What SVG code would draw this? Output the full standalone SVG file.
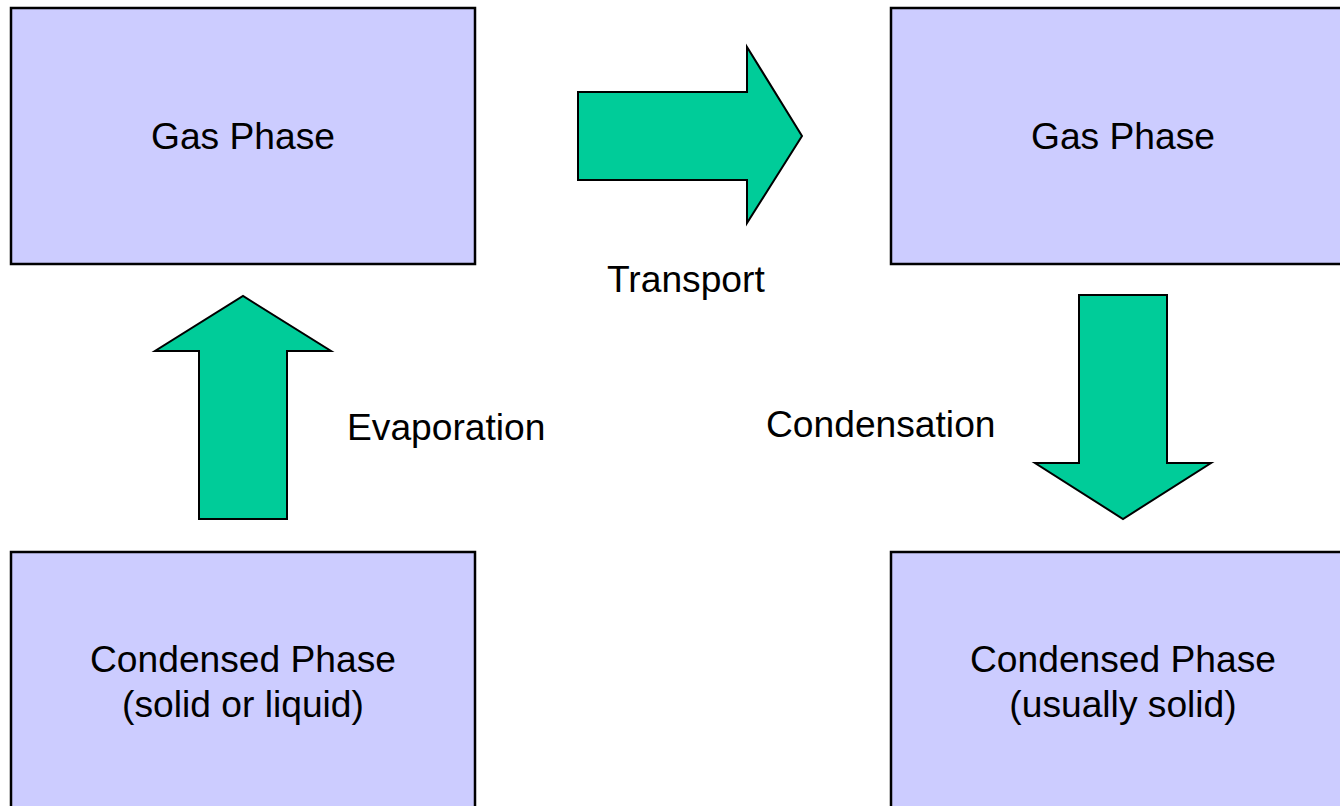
<svg xmlns="http://www.w3.org/2000/svg" width="1340" height="806" viewBox="0 0 1340 806">
<style>
.box{fill:#ccccff;stroke:#000;stroke-width:2.5}
.arr{fill:#00cc99;stroke:#000;stroke-width:2;stroke-linejoin:miter}
text{font-family:"Liberation Sans",Arial,sans-serif;font-size:37.2px;fill:#000}
.c{text-anchor:middle}
</style>
<rect width="1340" height="806" fill="#fff"/>
<g id="gas-left"><rect class="box" x="11" y="8" width="464" height="256"/><text class="c" x="243" y="148.5">Gas Phase</text></g>
<g id="gas-right"><rect class="box" x="891" y="8" width="470" height="256"/><text class="c" x="1123" y="148.5">Gas Phase</text></g>
<g id="cond-left"><rect class="box" x="11" y="552" width="464" height="270"/><text class="c" x="243" y="671.5">Condensed Phase</text><text class="c" x="243" y="716.5">(solid or liquid)</text></g>
<g id="cond-right"><rect class="box" x="891" y="552" width="470" height="270"/><text class="c" x="1123" y="671.5">Condensed Phase</text><text class="c" x="1123" y="716.5">(usually solid)</text></g>
<g id="connectors">
<polygon class="arr" points="578,92 747,92 747,47 802,136 747,223 747,180 578,180"/>
<polygon class="arr" points="199,519 199,351 155,351 243,296 331,351 287,351 287,519"/>
<polygon class="arr" points="1079,295 1167,295 1167,463 1211,463 1123,519 1035,463 1079,463"/>
<text x="607" y="291.5">Transport</text>
<text x="347" y="439.5">Evaporation</text>
<text x="766" y="437">Condensation</text>
</g>
</svg>
